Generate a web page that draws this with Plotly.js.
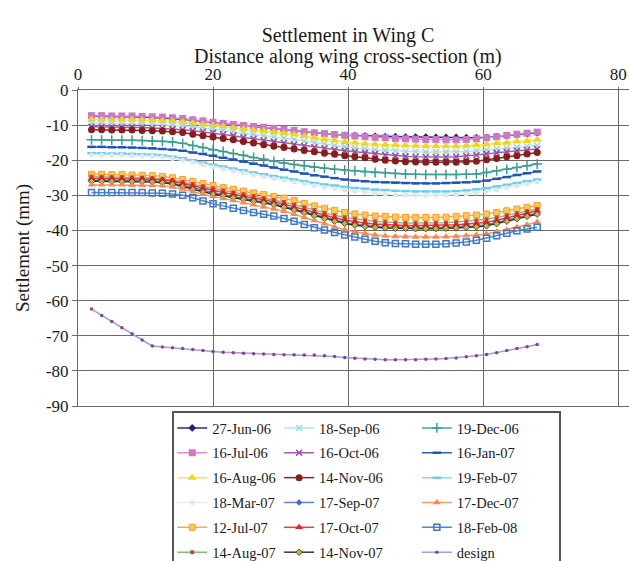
<!DOCTYPE html>
<html>
<head>
<meta charset="utf-8">
<script src="https://cdn.plot.ly/plotly-3.0.1.min.js"></script>
<style>html,body{margin:0;padding:0;background:#fff;}#chart{width:629px;height:561px;}</style>
</head>
<body>
<div id="chart"></div>
<script>
// Distance along wing cross-section (m)
const distance = [2,3.5,5,6.5,8,9.5,11,12.5,14,15.5,17,18.5,20,21.5,23,24.5,26,27.5,29,30.5,32,33.5,35,36.5,38,39.5,41,42.5,44,45.5,47,48.5,50,51.5,53,54.5,56,57.5,59,60.5,62,63.5,65,66.5,68];

const seriesNames = ['27-Jun-06','16-Jul-06','16-Aug-06','18-Sep-06','16-Oct-06','14-Nov-06','19-Dec-06','16-Jan-07','19-Feb-07','18-Mar-07','12-Jul-07','14-Aug-07','17-Sep-07','17-Oct-07','14-Nov-07','17-Dec-07','18-Feb-08','design'];

// Settlement (mm)
const s27Jun06 = [-7.5,-7.5,-7.5,-7.6,-7.6,-7.7,-7.8,-7.9,-8.1,-8.3,-8.6,-8.9,-9.3,-9.6,-9.9,-10.2,-10.5,-10.8,-11.1,-11.4,-11.7,-12.0,-12.3,-12.5,-12.7,-12.9,-13.0,-13.1,-13.2,-13.3,-13.3,-13.4,-13.4,-13.4,-13.5,-13.5,-13.5,-13.6,-13.6,-13.5,-13.3,-13.0,-12.7,-12.4,-12.2];
const s16Jul06 = [-7.3,-7.3,-7.4,-7.4,-7.4,-7.5,-7.6,-7.7,-7.9,-8.1,-8.5,-8.8,-9.2,-9.5,-9.8,-10.1,-10.4,-10.6,-10.9,-11.2,-11.5,-11.9,-12.2,-12.4,-12.7,-12.9,-13.1,-13.3,-13.5,-13.6,-13.8,-13.9,-14.0,-14.1,-14.1,-14.2,-14.2,-14.1,-13.9,-13.6,-13.3,-12.9,-12.6,-12.3,-12.0];
const s16Aug06 = [-8.4,-8.4,-8.5,-8.5,-8.5,-8.6,-8.7,-8.8,-8.9,-9.1,-9.5,-9.8,-10.1,-10.4,-10.8,-11.1,-11.4,-11.7,-12.0,-12.3,-12.7,-13.2,-13.6,-14.0,-14.4,-14.8,-15.0,-15.3,-15.5,-15.6,-15.7,-15.8,-15.9,-16.0,-16.0,-16.0,-16.0,-15.9,-15.7,-15.5,-15.2,-15.0,-14.7,-14.5,-14.2];
const s18Sep06 = [-9.5,-9.5,-9.6,-9.6,-9.6,-9.7,-9.8,-9.9,-10.0,-10.2,-10.5,-10.8,-11.1,-11.5,-11.9,-12.3,-12.6,-13.0,-13.3,-13.7,-14.1,-14.6,-15.0,-15.4,-15.8,-16.2,-16.5,-16.8,-17.0,-17.2,-17.4,-17.5,-17.6,-17.7,-17.7,-17.7,-17.7,-17.5,-17.3,-17.1,-16.8,-16.6,-16.3,-16.1,-15.8];
const s16Oct06 = [-10.5,-10.5,-10.6,-10.6,-10.6,-10.7,-10.8,-10.9,-11.1,-11.3,-11.6,-11.9,-12.2,-12.6,-13.0,-13.5,-13.9,-14.3,-14.7,-15.1,-15.5,-15.9,-16.3,-16.6,-17.0,-17.3,-17.6,-17.9,-18.2,-18.5,-18.7,-18.9,-19.0,-19.1,-19.1,-19.1,-19.0,-18.8,-18.5,-18.2,-17.9,-17.6,-17.3,-17.1,-16.8];
const s14Nov06 = [-11.3,-11.3,-11.4,-11.4,-11.4,-11.5,-11.6,-11.7,-11.9,-12.1,-12.6,-13.0,-13.4,-13.8,-14.2,-14.7,-15.1,-15.6,-16.0,-16.4,-16.8,-17.2,-17.6,-18.0,-18.3,-18.7,-19.0,-19.3,-19.7,-20.0,-20.2,-20.4,-20.5,-20.6,-20.6,-20.6,-20.6,-20.4,-20.3,-19.9,-19.5,-19.0,-18.7,-18.2,-17.8];
const s19Dec06 = [-14.2,-14.2,-14.3,-14.3,-14.3,-14.4,-14.5,-14.6,-14.8,-15.2,-15.8,-16.4,-17.0,-17.5,-18.1,-18.6,-19.2,-19.7,-20.3,-20.8,-21.2,-21.6,-22.0,-22.3,-22.6,-22.8,-23.0,-23.3,-23.5,-23.6,-23.8,-23.9,-24.0,-24.1,-24.1,-24.1,-24.1,-24.0,-23.9,-23.5,-23.0,-22.6,-22.1,-21.6,-21.1];
const s16Jan07 = [-16.2,-16.2,-16.3,-16.3,-16.4,-16.5,-16.6,-16.8,-17.0,-17.3,-17.8,-18.2,-18.7,-19.3,-19.8,-20.4,-21.0,-21.5,-22.1,-22.7,-23.2,-23.8,-24.3,-24.7,-25.1,-25.5,-25.8,-26.0,-26.2,-26.3,-26.4,-26.5,-26.6,-26.6,-26.6,-26.5,-26.4,-26.3,-26.1,-25.8,-25.3,-24.8,-24.2,-23.7,-23.2];
const s19Feb07 = [-18.0,-18.0,-18.1,-18.1,-18.2,-18.3,-18.4,-18.6,-19.0,-19.4,-20.0,-20.7,-21.3,-21.8,-22.4,-22.9,-23.5,-24.0,-24.5,-25.0,-25.5,-26.0,-26.5,-26.9,-27.2,-27.6,-27.9,-28.1,-28.4,-28.5,-28.7,-28.8,-28.9,-28.9,-28.9,-28.9,-28.8,-28.6,-28.3,-28.0,-27.5,-27.0,-26.5,-26.0,-25.5];
const s18Mar07 = [-18.5,-18.5,-18.6,-18.6,-18.7,-18.8,-18.9,-19.1,-19.5,-20.0,-20.6,-21.3,-21.9,-22.5,-23.1,-23.6,-24.2,-24.7,-25.2,-25.7,-26.2,-26.7,-27.2,-27.7,-28.1,-28.5,-28.8,-29.1,-29.4,-29.6,-29.8,-29.9,-30.0,-30.0,-30.0,-29.9,-29.8,-29.6,-29.3,-28.9,-28.4,-27.8,-27.3,-26.7,-26.2];
const s12Jul07 = [-24.0,-24.0,-24.1,-24.1,-24.2,-24.3,-24.4,-24.6,-25.0,-25.5,-26.0,-26.6,-27.2,-27.8,-28.3,-28.8,-29.3,-29.8,-30.3,-30.8,-31.5,-32.3,-33.0,-33.7,-34.3,-34.9,-35.3,-35.6,-35.9,-36.0,-36.2,-36.3,-36.3,-36.3,-36.3,-36.2,-36.0,-35.8,-35.6,-35.3,-34.9,-34.4,-33.9,-33.4,-32.9];
const s14Aug07 = [-24.7,-24.7,-24.8,-24.8,-24.9,-25.0,-25.1,-25.3,-25.7,-26.2,-26.8,-27.4,-28.0,-28.6,-29.2,-29.7,-30.2,-30.8,-31.3,-31.9,-32.6,-33.4,-34.2,-35.0,-35.7,-36.3,-36.7,-37.1,-37.4,-37.6,-37.8,-37.9,-37.9,-37.9,-37.9,-37.8,-37.6,-37.4,-37.1,-36.8,-36.3,-35.7,-35.1,-34.5,-33.9];
const s17Sep07 = [-25.7,-25.7,-25.7,-25.8,-25.8,-25.8,-25.9,-26.1,-26.5,-27.2,-27.9,-28.6,-29.3,-29.8,-30.3,-30.8,-31.4,-31.9,-32.4,-33.1,-33.9,-34.7,-35.5,-36.3,-37.1,-37.7,-38.2,-38.6,-38.9,-39.0,-39.1,-39.2,-39.2,-39.2,-39.2,-39.1,-39.0,-38.9,-38.7,-38.4,-37.8,-37.1,-36.4,-35.7,-35.1];
const s17Oct07 = [-25.2,-25.2,-25.2,-25.3,-25.3,-25.3,-25.4,-25.6,-25.9,-26.6,-27.3,-28.0,-28.6,-29.2,-29.7,-30.2,-30.8,-31.3,-31.8,-32.5,-33.3,-34.1,-34.8,-35.6,-36.4,-37.0,-37.5,-37.9,-38.2,-38.4,-38.5,-38.6,-38.6,-38.6,-38.6,-38.5,-38.4,-38.2,-38.0,-37.7,-37.1,-36.4,-35.7,-35.1,-34.4];
const s14Nov07 = [-26.0,-26.0,-26.0,-26.1,-26.1,-26.1,-26.2,-26.4,-26.8,-27.5,-28.3,-29.0,-29.6,-30.1,-30.6,-31.1,-31.7,-32.2,-32.7,-33.4,-34.2,-35.0,-35.8,-36.6,-37.4,-38.0,-38.5,-38.9,-39.1,-39.3,-39.4,-39.4,-39.5,-39.5,-39.5,-39.4,-39.3,-39.2,-39.0,-38.7,-38.1,-37.4,-36.7,-36.0,-35.4];
const s17Dec07 = [-27.0,-27.0,-27.0,-27.0,-27.1,-27.1,-27.2,-27.3,-27.6,-28.2,-29.0,-29.7,-30.3,-30.9,-31.5,-32.1,-32.7,-33.3,-33.9,-34.5,-35.4,-36.3,-37.2,-38.1,-39.0,-39.8,-40.4,-40.9,-41.3,-41.6,-41.7,-41.8,-41.9,-41.9,-41.9,-41.8,-41.7,-41.5,-41.3,-41.0,-40.4,-39.8,-39.1,-38.4,-37.6];
const s18Feb08 = [-29.2,-29.2,-29.2,-29.2,-29.2,-29.2,-29.3,-29.4,-29.6,-30.0,-30.7,-31.6,-32.4,-33.0,-33.7,-34.3,-34.9,-35.4,-35.9,-36.6,-37.4,-38.3,-39.2,-39.9,-40.6,-41.3,-41.9,-42.5,-43.1,-43.5,-43.7,-43.8,-43.9,-43.9,-43.9,-43.8,-43.6,-43.3,-42.8,-42.2,-41.5,-40.8,-40.1,-39.6,-39.1];
const sDesign = [-62.4,-64.2,-65.9,-67.7,-69.4,-71.2,-72.9,-73.2,-73.4,-73.6,-73.9,-74.2,-74.5,-74.7,-74.8,-75.0,-75.1,-75.2,-75.3,-75.4,-75.4,-75.5,-75.5,-75.7,-75.9,-76.2,-76.4,-76.6,-76.7,-76.8,-76.8,-76.8,-76.8,-76.7,-76.6,-76.5,-76.3,-76.0,-75.7,-75.3,-74.8,-74.2,-73.6,-73.1,-72.5];

const seriesValues = [s27Jun06,s16Jul06,s16Aug06,s18Sep06,s16Oct06,s14Nov06,s19Dec06,s16Jan07,s19Feb07,s18Mar07,s12Jul07,s14Aug07,s17Sep07,s17Oct07,s14Nov07,s17Dec07,s18Feb08,sDesign];

const xTicks = [0,20,40,60,80];
const yTicks = [0,-10,-20,-30,-40,-50,-60,-70,-80,-90];

// styles: [line colour, symbol, size, marker fill, marker line colour, marker line width, legend]
const styles = [
  ['#2b2b8a','diamond',6,'#1f1f7a','#1f1f7a',0,'legend'],
  ['#d48fcf','square',7,'#cc79c4','#cc79c4',0,'legend'],
  ['#f5e35a','triangle-up',8,'#f2d51a','#f2d51a',0,'legend'],
  ['#b6e4e2','x-thin-open',6,'#9fd8d6','#9fd8d6',1.5,'legend2'],
  ['#a45aa8','x-thin-open',6,'#9b4c9f','#9b4c9f',1.5,'legend2'],
  ['#8e2323','circle',7,'#8b1c1c','#8b1c1c',0,'legend2'],
  ['#45a99c','cross-thin-open',7,'#3a9d90','#3a9d90',1.5,'legend3'],
  ['#2a5fc0','line-ew-open',6,'#1f55b8','#1f55b8',2.5,'legend3'],
  ['#8fd6ef','line-ew-open',6,'#6ccbee','#6ccbee',2.5,'legend3'],
  ['#e2eff0','circle',5,'#d8eaec','#d8eaec',0,'legend'],
  ['#f6a85a','square',6,'#ffc94a','#f79a40',1,'legend'],
  ['#7fbf7f','square',4,'#c84a3a','#c84a3a',0,'legend'],
  ['#5f86cc','diamond',5,'#3e6fc4','#3e6fc4',0,'legend2'],
  ['#f03a3a','triangle-up',7,'#e82020','#e82020',0,'legend2'],
  ['#333333','diamond',5,'#c9b230','#333333',0.8,'legend2'],
  ['#f59a6a','triangle-up',7,'#f58a50','#f58a50',0,'legend3'],
  ['#4f86d0','square-open',6,'#3f78c8','#3f78c8',1.5,'legend3'],
  ['#91a3e3','circle',3.5,'#a03a7a','#a03a7a',0,'legend3']
];

const serif = "'Liberation Serif', 'Times New Roman', Times, serif";
const traces = seriesNames.map((name, i) => {
  const st = styles[i];
  return {
    type: 'scatter', mode: 'lines+markers', name: name,
    x: distance, y: seriesValues[i],
    legend: st[6], legendgroup: name,
    line: {color: st[0], width: 1.5},
    marker: {symbol: st[1], size: st[2], color: st[3], line: {color: st[4], width: st[5]}}
  };
});

const legendBase = {
  xref: 'paper', yref: 'paper', xanchor: 'left', yanchor: 'top',
  orientation: 'v', bgcolor: 'rgba(0,0,0,0)', borderwidth: 0,
  font: {family: serif, size: 14.5, color: '#1a1a1a'},
  tracegroupgap: 3, itemwidth: 30
};

const layout = {
  width: 629, height: 561,
  margin: {l: 78, r: 0, t: 90, b: 155, autoexpand: false},
  paper_bgcolor: '#ffffff', plot_bgcolor: '#ffffff',
  font: {family: serif, color: '#1a1a1a'},
  title: {
    text: 'Settlement in Wing C',
    font: {family: serif, size: 20, color: '#1a1a1a'},
    xref: 'paper', x: 0.49, xanchor: 'center',
    yref: 'container', y: 1 - 35 / 561, yanchor: 'middle'
  },
  annotations: [{
    text: 'Distance along wing cross-section (m)',
    xref: 'paper', yref: 'paper', x: 0.49, y: (406 - 56) / 316,
    xanchor: 'center', yanchor: 'middle', showarrow: false,
    font: {family: serif, size: 20, color: '#1a1a1a'}
  }],
  xaxis: {
    side: 'top', range: [0, 81.6], tickvals: xTicks, ticktext: xTicks.map(String),
    showgrid: true, gridcolor: '#6a6a6a', gridwidth: 1,
    showline: true, linecolor: '#6a6a6a', linewidth: 1, mirror: true,
    ticks: 'outside', ticklen: 2, tickcolor: '#6a6a6a',
    zeroline: false,
    tickfont: {family: serif, size: 17, color: '#1a1a1a'},
    automargin: false
  },
  yaxis: {
    range: [-90, 0], tickvals: yTicks, ticktext: yTicks.map(String),
    showgrid: true, gridcolor: '#6a6a6a', gridwidth: 1,
    showline: true, linecolor: '#6a6a6a', linewidth: 1,
    ticks: 'outside', ticklen: 5, tickcolor: '#6a6a6a',
    zeroline: false,
    tickfont: {family: serif, size: 17, color: '#1a1a1a'},
    title: {text: 'Settlement (mm)', font: {family: serif, size: 19, color: '#1a1a1a'}, standoff: 11},
    automargin: false
  },
  legend: Object.assign({}, legendBase, {x: 0.171, y: -0.019}),
  legend2: Object.assign({}, legendBase, {x: 0.365, y: -0.019}),
  legend3: Object.assign({}, legendBase, {x: 0.615, y: -0.019}),
  shapes: [{
    type: 'rect', xref: 'paper', yref: 'paper',
    x0: (173 - 78) / 551, x1: (560 - 78) / 551, y0: -0.55, y1: -0.019,
    line: {color: '#555555', width: 2}, fillcolor: 'rgba(0,0,0,0)', layer: 'above'
  }],
  showlegend: true
};

Plotly.newPlot('chart', traces, layout, {displayModeBar: false, responsive: false});
</script>
</body>
</html>
